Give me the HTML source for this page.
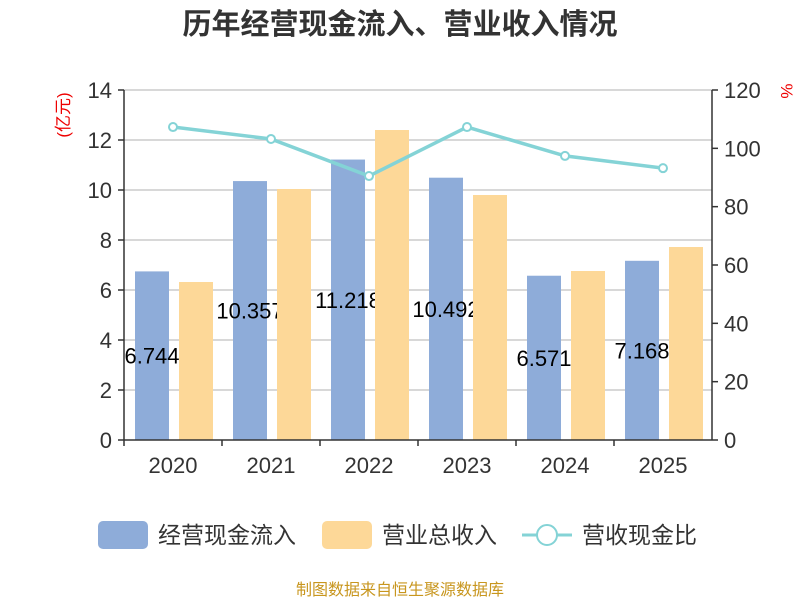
<!DOCTYPE html>
<html><head><meta charset="utf-8"><style>
body{margin:0;background:#fff;font-family:"Liberation Sans","Noto Sans CJK SC",sans-serif}
</style></head><body>
<svg id="c" width="800" height="600" xmlns="http://www.w3.org/2000/svg" style="font-family:'Liberation Sans','Noto Sans CJK SC',sans-serif">
<text x="400" y="34" text-anchor="middle" font-size="29" font-weight="bold" fill="#333">历年经营现金流入、营业收入情况</text>
<text transform="translate(69,115) rotate(-90)" text-anchor="middle" font-size="17" fill="#e00">(亿元)</text>
<text transform="translate(781,91) rotate(90)" text-anchor="middle" font-size="17" fill="#e00">%</text>
<g id="grid"></g><g id="bars"></g><g id="axes"></g><g id="line"></g>
<g>
<rect x="98" y="521" width="50" height="28" rx="5" fill="#8eacd9"/>
<text x="158" y="543" font-size="23" fill="#333">经营现金流入</text>
<rect x="322" y="521" width="50" height="28" rx="5" fill="#fdd898"/>
<text x="382" y="543" font-size="23" fill="#333">营业总收入</text>
<line x1="522" y1="535" x2="572" y2="535" stroke="#84d3d6" stroke-width="3"/>
<circle cx="547" cy="535" r="10" fill="#fff" stroke="#84d3d6" stroke-width="2"/>
<text x="582" y="543" font-size="23" fill="#333">营收现金比</text>
</g>
<text x="400" y="595" text-anchor="middle" font-size="16" fill="#c8961e">制图数据来自恒生聚源数据库</text>
</svg>
<script>
const categories=["2020","2021","2022","2023","2024","2025"];
const cashIn=[6.744,10.357,11.218,10.492,6.571,7.168];
const revenue=[6.32,10.04,12.4,9.8,6.76,7.72];
const ratio=[107.3,103.2,90.5,107.3,97.4,93.2];
const leftTicks=[0,2,4,6,8,10,12,14];
const rightTicks=[0,20,40,60,80,100,120];
const NS="http://www.w3.org/2000/svg";
const L=124,R=712,T=90,B=440;
const yL=v=>B-(v/14)*(B-T), yR=v=>B-(v/120)*(B-T);
const bw=(R-L)/categories.length, xc=i=>L+bw*(i+0.5);
function mk(p,tag,a,txt){const e=document.createElementNS(NS,tag);for(const k in a)e.setAttribute(k,a[k]);if(txt!==undefined)e.textContent=txt;document.getElementById(p).appendChild(e);return e;}
leftTicks.forEach(t=>{
 if(t>0){const g=mk('grid','line',{x1:L,x2:R,y1:yL(t),y2:yL(t),stroke:'#ccc','stroke-width':1.5});
 
 }
 const tk=mk('axes','line',{x1:L-6,x2:L,y1:yL(t),y2:yL(t),stroke:'#333','stroke-width':1.5});
 
 
 const tx=mk('axes','text',{x:L-12,y:yL(t)+8,'text-anchor':'end','font-size':22,fill:'#333'},t);
 
 
});
rightTicks.forEach(t=>{
 const tk=mk('axes','line',{x1:R,x2:R+6,y1:yR(t),y2:yR(t),stroke:'#333','stroke-width':1.5});
 
 
 const tx=mk('axes','text',{x:R+12,y:yR(t)+8,'font-size':22,fill:'#333'},t);
 
 
});
let a=mk('axes','line',{x1:L,x2:L,y1:T,y2:B,stroke:'#333','stroke-width':1.5});
a=mk('axes','line',{x1:R,x2:R,y1:T,y2:B,stroke:'#333','stroke-width':1.5});
a=mk('axes','line',{x1:L,x2:R,y1:B,y2:B,stroke:'#333','stroke-width':1.5});
categories.forEach((c,i)=>{
 for(const x of [L+bw*i]){const tk=mk('axes','line',{x1:x,x2:x,y1:B,y2:B+6,stroke:'#333','stroke-width':1.5});
 
 }
 const tx=mk('axes','text',{x:xc(i),y:B+33,'text-anchor':'middle','font-size':22,fill:'#333'},c);
 
 
 const b=mk('bars','rect',{x:xc(i)-38,y:yL(cashIn[i]),width:34,height:B-yL(cashIn[i]),fill:'#8eacd9'});
 
 
 const lb=mk('bars','text',{x:xc(i)-21,y:(yL(cashIn[i])+B)/2+8,'text-anchor':'middle','font-size':22,fill:'#000'},cashIn[i].toFixed(3));
 
 
});
categories.forEach((c,i)=>{
 const b=mk('bars','rect',{x:xc(i)+6,y:yL(revenue[i]),width:34,height:B-yL(revenue[i]),fill:'#fdd898'});
 
 
});
const ln=mk('line','polyline',{points:ratio.map((v,i)=>xc(i)+','+yR(v)).join(' '),fill:'none',stroke:'#84d3d6','stroke-width':3.5});


ratio.forEach((v,i)=>{
 const p=mk('line','circle',{cx:xc(i),cy:yR(v),r:4,fill:'#fff',stroke:'#84d3d6','stroke-width':2});
 
 
});
</script>
</body></html>
